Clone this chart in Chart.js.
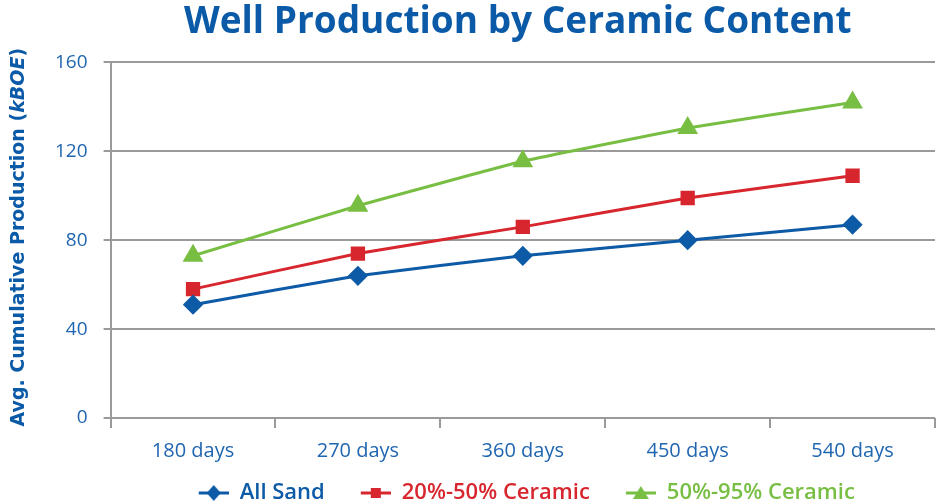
<!DOCTYPE html>
<html>
<head>
<meta charset="utf-8">
<script src="https://cdn.jsdelivr.net/npm/chart.js@4"></script>
<style>
  html, body { margin: 0; padding: 0; background: #fff; overflow: hidden; }
  #wrap { width: 938px; height: 504px; }
</style>
</head>
<body>
<div id="wrap"><canvas id="chart"></canvas></div>
<script>
// data
const categories = ['180 days', '270 days', '360 days', '450 days', '540 days'];
const allSand = [51, 64, 73, 80, 87];
const ceramic20to50 = [58, 74, 86, 99, 109];
const ceramic50to95 = [73, 95.5, 115.5, 130.5, 142];
const yTicks = [0, 40, 80, 120, 160];

const BLUE = '#0d5aa7';
const RED = '#d7262e';
const GREEN = '#78be43';
const GRID = '#9a9a9a';
const TICK_BLUE = '#1f65b0';

// legend icon: short line with the marker on it, drawn at the right of a wider box
const ICON_GAP = 28;
function legendIcon(color, style) {
    const c = document.createElement('canvas');
    c.width = 30 + ICON_GAP; c.height = 20;
    const g = c.getContext('2d');
    g.translate(ICON_GAP, 0);
    g.strokeStyle = color;
    g.fillStyle = color;
    g.lineWidth = 3;
    g.beginPath();
    g.moveTo(0, 10);
    g.lineTo(30, 10);
    g.stroke();
    g.beginPath();
    if (style === 'rectRot') {
        g.moveTo(15, 2); g.lineTo(22, 10); g.lineTo(15, 18); g.lineTo(8, 10);
    } else if (style === 'rect') {
        g.rect(10, 5, 10, 10);
    } else {
        g.moveTo(15, 3); g.lineTo(23, 16); g.lineTo(7, 16);
    }
    g.closePath();
    g.fill();
    return c;
}

// centre title and legend over the plot area, nudge legend down a bit
const tweakBoxes = {
    id: 'tweakBoxes',
    beforeDraw(chart) {
        const a = chart.chartArea;
        if (chart.titleBlock) { chart.titleBlock.left = a.left - 5; chart.titleBlock.right = a.right - 5; }
        const lg = chart.legend;
        if (lg) {
            lg.left = a.left - 10; lg.right = a.right - 10;
            lg.top = lg.bottom - lg.height + 10;
        }
    }
};

// y axis title with the unit in italics
const yTitle = {
    id: 'yTitle',
    afterDraw(chart) {
        const a = chart.chartArea;
        const g = chart.ctx;
        const parts = [
            ['Avg. Cumulative Production (', 'bold 19px "DejaVu Sans"'],
            ['kBOE', 'italic bold 19px "DejaVu Sans"'],
            [')', 'bold 19px "DejaVu Sans"']
        ];
        let total = 0;
        parts.forEach(p => { g.font = p[1]; total += g.measureText(p[0]).width; });
        g.save();
        g.translate(19, (a.top + a.bottom) / 2 - 3);
        g.rotate(-Math.PI / 2);
        g.fillStyle = '#0b5aa8';
        g.textBaseline = 'middle';
        g.textAlign = 'left';
        let x = -total / 2;
        parts.forEach(p => {
            g.font = p[1];
            g.fillText(p[0], x, 0);
            x += g.measureText(p[0]).width;
        });
        g.restore();
    }
};

function series(label, data, color, style, radius) {
    return {
        label: label,
        data: data,
        borderColor: color,
        backgroundColor: color,
        borderWidth: 3,
        pointStyle: style,
        pointRadius: radius,
        pointHoverRadius: radius,
        tension: 0.1,
        icon: legendIcon(color, style)
    };
}

const ctx = document.getElementById('chart').getContext('2d');
new Chart(ctx, {
    type: 'line',
    data: {
        labels: categories,
        datasets: [
            series('All Sand', allSand, BLUE, 'rectRot', 8),
            series('20%-50% Ceramic', ceramic20to50, RED, 'rect', 8),
            series('50%-95% Ceramic', ceramic50to95, GREEN, 'triangle', 9)
        ]
    },
    options: {
        responsive: true,
        maintainAspectRatio: false,
        animation: false,
        layout: { autoPadding: false, padding: { left: 39, right: 3, top: 0, bottom: 0 } },
        plugins: {
            title: {
                display: true,
                text: 'Well Production by Ceramic Content',
                color: '#0b5aa8',
                font: { family: 'Open Sans', size: 37, weight: 'bold' },
                padding: { top: 0, bottom: 18 }
            },
            legend: {
                position: 'bottom',
                labels: {
                    usePointStyle: true,
                    pointStyleWidth: 30 + ICON_GAP,
                    padding: 8,
                    font: { family: 'Open Sans', size: 22, weight: '600' },
                    generateLabels(chart) {
                        return chart.data.datasets.map((ds, i) => ({
                            text: ds.label,
                            fontColor: ds.borderColor,
                            fillStyle: ds.borderColor,
                            strokeStyle: ds.borderColor,
                            lineWidth: 0,
                            pointStyle: ds.icon,
                            datasetIndex: i,
                            hidden: false
                        }));
                    }
                }
            },
            tooltip: { enabled: false }
        },
        scales: {
            x: {
                offset: true,
                afterFit(scale) {
                    scale.height = 46;
                    scale.paddingLeft = 0;
                    scale.paddingRight = 0;
                },
                grid: {
                    offset: true,
                    drawOnChartArea: true,
                    color: c => (c.index === categories.length ? GRID : 'rgba(0,0,0,0)'),
                    tickColor: GRID,
                    tickLength: 10,
                    lineWidth: 2
                },
                border: { display: false },
                ticks: {
                    color: TICK_BLUE,
                    font: { family: 'Open Sans', size: 20 },
                    padding: 11
                }
            },
            y: {
                min: 0,
                max: 160,
                afterBuildTicks(axis) { axis.ticks = yTicks.map(v => ({ value: v })); },
                grid: {
                    color: GRID,
                    lineWidth: 2,
                    tickLength: 7
                },
                border: { display: true, color: GRID, width: 2 },
                ticks: {
                    color: TICK_BLUE,
                    font: { family: 'Open Sans', size: 19 },
                    padding: 16
                }
            }
        }
    },
    plugins: [tweakBoxes, yTitle]
});
</script>
</body>
</html>
